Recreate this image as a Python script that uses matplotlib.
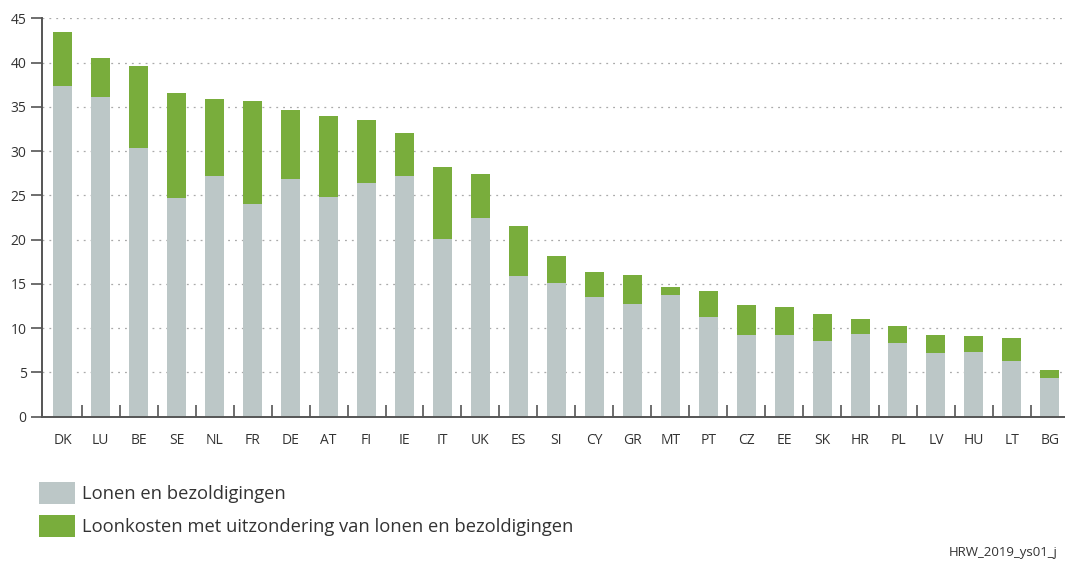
import numpy as np
import matplotlib
matplotlib.use('Agg')
import matplotlib.pyplot as plt
from matplotlib.patches import Patch

plt.rcParams['font.family'] = ['Open Sans', 'DejaVu Sans']

landen = ['DK', 'LU', 'BE', 'SE', 'NL', 'FR', 'DE', 'AT', 'FI', 'IE', 'IT', 'UK', 'ES',
          'SI', 'CY', 'GR', 'MT', 'PT', 'CZ', 'EE', 'SK', 'HR', 'PL', 'LV', 'HU', 'LT', 'BG']
# lonen en bezoldigingen (EUR per uur)
lonen = [37.4, 36.1, 30.4, 24.7, 27.2, 24.0, 26.8, 24.8, 26.4, 27.2, 20.1, 22.5, 15.9,
         15.1, 13.5, 12.7, 13.8, 11.3, 9.2, 9.2, 8.5, 9.3, 8.3, 7.2, 7.3, 6.3, 4.4]
# totale loonkosten (EUR per uur)
totaal = [43.5, 40.5, 39.6, 36.6, 35.9, 35.7, 34.6, 34.0, 33.5, 32.1, 28.2, 27.4, 21.5,
          18.1, 16.3, 16.0, 14.6, 14.2, 12.6, 12.4, 11.6, 11.0, 10.2, 9.2, 9.1, 8.9, 5.3]
overig = [t - l for t, l in zip(totaal, lonen)]

grijs = '#bcc7c7'
groen = '#79ad3c'
as_kleur = '#555555'

fig = plt.figure(figsize=(10.65, 5.67), dpi=100)
ax = fig.add_axes([0.0394, 0.265, 0.9606, 0.7027])

x = np.arange(len(landen))
ax.bar(x, lonen, width=0.5, color=grijs, zorder=2)
ax.bar(x, overig, width=0.5, bottom=lonen, color=groen, zorder=2)

ax.set_ylim(0, 45)
ax.set_xlim(-0.55, 26.4)
ax.set_yticks(range(0, 46, 5))
ax.yaxis.grid(True, linestyle=(0, (1.5, 4)), color='#aaaaaa', linewidth=0.9, zorder=0)
ax.set_xticks(x)
ax.set_xticklabels(landen)
ax.set_xticks(x[:-1] + 0.5, minor=True)

ax.tick_params(axis='x', which='major', length=0, pad=12, labelsize=10, labelcolor='#333333')
ax.tick_params(axis='x', which='minor', direction='in', length=9, width=1.2, color=as_kleur)
ax.tick_params(axis='y', length=8, width=1.2, color=as_kleur, labelsize=10,
               labelcolor='#333333', pad=3)

for kant in ['top', 'right']:
    ax.spines[kant].set_visible(False)
for kant in ['left', 'bottom']:
    ax.spines[kant].set_color(as_kleur)
    ax.spines[kant].set_linewidth(1.4)

handles = [Patch(facecolor=grijs, label='Lonen en bezoldigingen'),
           Patch(facecolor=groen, label='Loonkosten met uitzondering van lonen en bezoldigingen')]
fig.legend(handles=handles, loc='upper left', bbox_to_anchor=(0.030, 0.162),
           frameon=False, fontsize=13.2, handlelength=1.95, handleheight=1.45,
           handletextpad=0.4, labelspacing=0.6, borderaxespad=0, labelcolor='#333333')

fig.text(0.993, 0.014, 'HRW_2019_ys01_j', ha='right', va='bottom', fontsize=9.5, color='#333333')

fig.savefig('out.png', dpi=100)
